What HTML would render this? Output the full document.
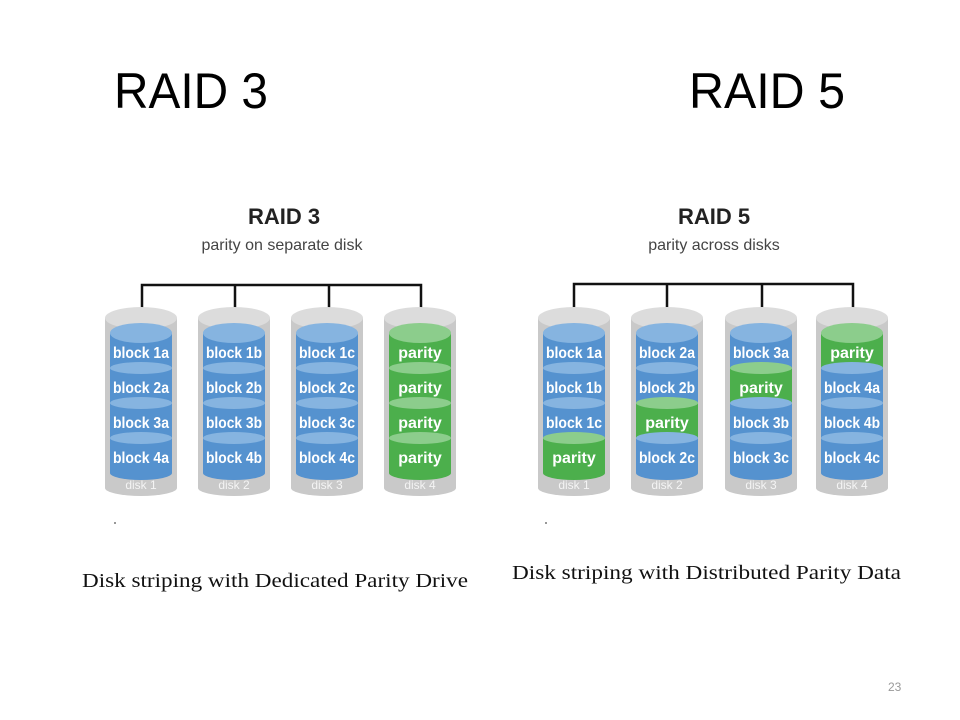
<!DOCTYPE html>
<html><head><meta charset="utf-8"><style>
html,body{margin:0;padding:0;background:#fff;width:960px;height:720px;overflow:hidden}
svg{display:block}
.bt{font-family:"Liberation Sans",sans-serif;font-weight:bold;font-size:16px;fill:#fff;text-anchor:middle}
.dl{font-family:"Liberation Sans",sans-serif;font-size:12px;fill:#f4f4f4;text-anchor:middle}
</style></head><body>
<svg width="960" height="720" viewBox="0 0 960 720" xmlns="http://www.w3.org/2000/svg">
<defs>
<g id="base">
<rect x="0" y="318" width="72" height="170" fill="#c9c9c9"/>
<ellipse cx="36" cy="488" rx="36" ry="8" fill="#c9c9c9"/>
<ellipse cx="36" cy="318" rx="36" ry="11" fill="#dcdcdc"/>
</g>
<g id="b">
<rect x="5" y="0" width="62" height="35" fill="#5592cf"/>
<ellipse cx="36" cy="35" rx="31" ry="7" fill="#5592cf"/>
<ellipse cx="36" cy="0" rx="31" ry="6" fill="#86b4e0"/>
</g>
<g id="g">
<rect x="5" y="0" width="62" height="35" fill="#4caf4c"/>
<ellipse cx="36" cy="35" rx="31" ry="7" fill="#4caf4c"/>
<ellipse cx="36" cy="0" rx="31" ry="6" fill="#8ccd8c"/>
</g>
<g id="tb"><ellipse cx="36" cy="333" rx="31" ry="10" fill="#86b4e0"/></g>
<g id="tg"><ellipse cx="36" cy="333" rx="31" ry="10" fill="#8ccd8c"/></g>
</defs>

<text x="114" y="108" font-family="Liberation Sans,sans-serif" font-size="50" textLength="154" lengthAdjust="spacingAndGlyphs" fill="#000">RAID 3</text>
<text x="689" y="108" font-family="Liberation Sans,sans-serif" font-size="50" textLength="156" lengthAdjust="spacingAndGlyphs" fill="#000">RAID 5</text>

<text x="284" y="224" font-family="Liberation Sans,sans-serif" font-weight="bold" font-size="22" text-anchor="middle" fill="#222">RAID 3</text>
<text x="282" y="250" font-family="Liberation Sans,sans-serif" font-size="16" text-anchor="middle" fill="#444">parity on separate disk</text>
<path d="M142 320V285H421V320M235 285V320M329 285V320" stroke="#111" stroke-width="2.5" fill="none"/>

<g transform="translate(105,0)"><use href="#base"/>
<use href="#b" y="333"/><use href="#b" y="368"/><use href="#b" y="403"/><use href="#b" y="438"/><use href="#tb"/>
<text class="bt" x="36" y="358" textLength="56" lengthAdjust="spacingAndGlyphs">block 1a</text><text class="bt" x="36" y="393" textLength="56" lengthAdjust="spacingAndGlyphs">block 2a</text><text class="bt" x="36" y="428" textLength="56" lengthAdjust="spacingAndGlyphs">block 3a</text><text class="bt" x="36" y="463" textLength="56" lengthAdjust="spacingAndGlyphs">block 4a</text>
<text class="dl" x="36" y="489">disk 1</text></g>

<g transform="translate(198,0)"><use href="#base"/>
<use href="#b" y="333"/><use href="#b" y="368"/><use href="#b" y="403"/><use href="#b" y="438"/><use href="#tb"/>
<text class="bt" x="36" y="358" textLength="56" lengthAdjust="spacingAndGlyphs">block 1b</text><text class="bt" x="36" y="393" textLength="56" lengthAdjust="spacingAndGlyphs">block 2b</text><text class="bt" x="36" y="428" textLength="56" lengthAdjust="spacingAndGlyphs">block 3b</text><text class="bt" x="36" y="463" textLength="56" lengthAdjust="spacingAndGlyphs">block 4b</text>
<text class="dl" x="36" y="489">disk 2</text></g>

<g transform="translate(291,0)"><use href="#base"/>
<use href="#b" y="333"/><use href="#b" y="368"/><use href="#b" y="403"/><use href="#b" y="438"/><use href="#tb"/>
<text class="bt" x="36" y="358" textLength="56" lengthAdjust="spacingAndGlyphs">block 1c</text><text class="bt" x="36" y="393" textLength="56" lengthAdjust="spacingAndGlyphs">block 2c</text><text class="bt" x="36" y="428" textLength="56" lengthAdjust="spacingAndGlyphs">block 3c</text><text class="bt" x="36" y="463" textLength="56" lengthAdjust="spacingAndGlyphs">block 4c</text>
<text class="dl" x="36" y="489">disk 3</text></g>

<g transform="translate(384,0)"><use href="#base"/>
<use href="#g" y="333"/><use href="#g" y="368"/><use href="#g" y="403"/><use href="#g" y="438"/><use href="#tg"/>
<text class="bt" x="36" y="358">parity</text><text class="bt" x="36" y="393">parity</text><text class="bt" x="36" y="428">parity</text><text class="bt" x="36" y="463">parity</text>
<text class="dl" x="36" y="489">disk 4</text></g>

<text x="714" y="224" font-family="Liberation Sans,sans-serif" font-weight="bold" font-size="22" text-anchor="middle" fill="#222">RAID 5</text>
<text x="714" y="250" font-family="Liberation Sans,sans-serif" font-size="16" text-anchor="middle" fill="#444">parity across disks</text>
<path d="M574 320V284H853V320M667 284V320M762 284V320" stroke="#111" stroke-width="2.5" fill="none"/>

<g transform="translate(538,0)"><use href="#base"/>
<use href="#b" y="333"/><use href="#b" y="368"/><use href="#b" y="403"/><use href="#g" y="438"/><use href="#tb"/>
<text class="bt" x="36" y="358" textLength="56" lengthAdjust="spacingAndGlyphs">block 1a</text><text class="bt" x="36" y="393" textLength="56" lengthAdjust="spacingAndGlyphs">block 1b</text><text class="bt" x="36" y="428" textLength="56" lengthAdjust="spacingAndGlyphs">block 1c</text><text class="bt" x="36" y="463">parity</text>
<text class="dl" x="36" y="489">disk 1</text></g>

<g transform="translate(631,0)"><use href="#base"/>
<use href="#b" y="333"/><use href="#b" y="368"/><use href="#g" y="403"/><use href="#b" y="438"/><use href="#tb"/>
<text class="bt" x="36" y="358" textLength="56" lengthAdjust="spacingAndGlyphs">block 2a</text><text class="bt" x="36" y="393" textLength="56" lengthAdjust="spacingAndGlyphs">block 2b</text><text class="bt" x="36" y="428">parity</text><text class="bt" x="36" y="463" textLength="56" lengthAdjust="spacingAndGlyphs">block 2c</text>
<text class="dl" x="36" y="489">disk 2</text></g>

<g transform="translate(725,0)"><use href="#base"/>
<use href="#b" y="333"/><use href="#g" y="368"/><use href="#b" y="403"/><use href="#b" y="438"/><use href="#tb"/>
<text class="bt" x="36" y="358" textLength="56" lengthAdjust="spacingAndGlyphs">block 3a</text><text class="bt" x="36" y="393">parity</text><text class="bt" x="36" y="428" textLength="56" lengthAdjust="spacingAndGlyphs">block 3b</text><text class="bt" x="36" y="463" textLength="56" lengthAdjust="spacingAndGlyphs">block 3c</text>
<text class="dl" x="36" y="489">disk 3</text></g>

<g transform="translate(816,0)"><use href="#base"/>
<use href="#g" y="333"/><use href="#b" y="368"/><use href="#b" y="403"/><use href="#b" y="438"/><use href="#tg"/>
<text class="bt" x="36" y="358">parity</text><text class="bt" x="36" y="393" textLength="56" lengthAdjust="spacingAndGlyphs">block 4a</text><text class="bt" x="36" y="428" textLength="56" lengthAdjust="spacingAndGlyphs">block 4b</text><text class="bt" x="36" y="463" textLength="56" lengthAdjust="spacingAndGlyphs">block 4c</text>
<text class="dl" x="36" y="489">disk 4</text></g>

<circle cx="115" cy="523" r="1" fill="#777"/>
<circle cx="546" cy="523" r="1" fill="#777"/>

<text x="82" y="587" font-family="Liberation Serif,serif" font-size="20" textLength="386" lengthAdjust="spacingAndGlyphs" fill="#111">Disk striping with Dedicated Parity Drive</text>
<text x="512" y="579" font-family="Liberation Serif,serif" font-size="20" textLength="389" lengthAdjust="spacingAndGlyphs" fill="#111">Disk striping with Distributed Parity Data</text>
<text x="888" y="691" font-family="Liberation Sans,sans-serif" font-size="12" fill="#999">23</text>
</svg>
</body></html>
